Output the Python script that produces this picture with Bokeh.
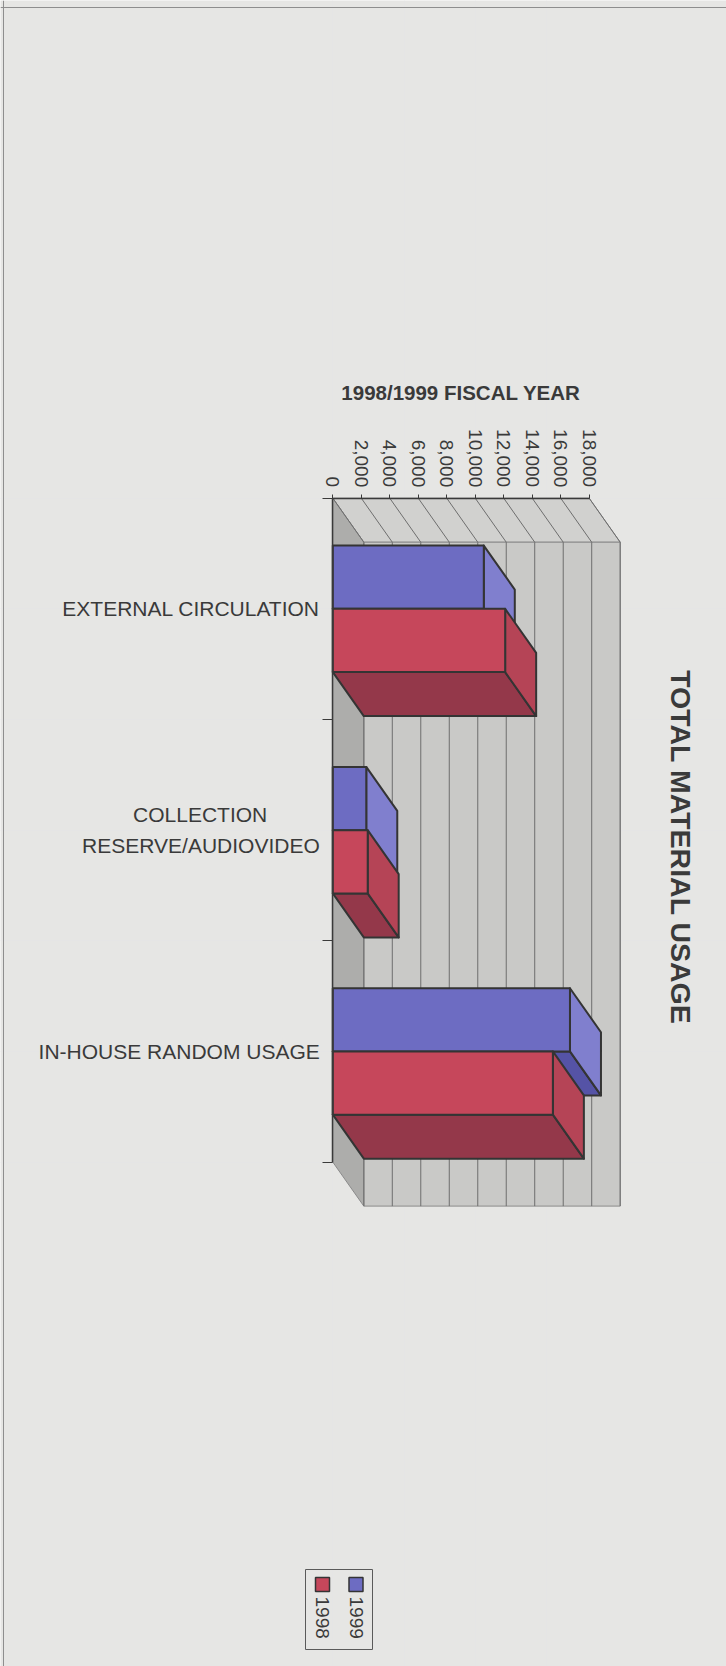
import math

from bokeh.core.properties import value
from bokeh.embed import file_html
from bokeh.models import (ColumnDataSource, FixedTicker, Label, LinearAxis,
                          NumeralTickFormatter, Range1d, Span)
from bokeh.plotting import figure
from bokeh.resources import INLINE

# ---- data -------------------------------------------------------------
# the short first line is padded with no-break spaces so both lines sit centred
categories = ["EXTERNAL CIRCULATION",
              "COLLECTION" + "\u00a0" * 9 + "\nRESERVE/AUDIOVIDEO",
              "IN-HOUSE RANDOM USAGE"]
series_names = ["1999", "1998"]
usage_1999 = [10600, 2350, 16650]
usage_1998 = [12100, 2450, 15450]
value_ticks = [0, 2000, 4000, 6000, 8000, 10000, 12000, 14000, 16000, 18000]

# ---- page geometry (pixels) -------------------------------------------
W, H = 726, 1666
ORIGIN_X, ORIGIN_Y = 332.3, 497.7      # front corner where the two axes meet
AXIS_PX = 256.4                        # pixel length of the value axis
CAT_PX = 221.3                         # pixel height of one category band
DEPTH_X_PX, DEPTH_Y_PX = 31.0, 44.0    # oblique offset of the 3-D depth

VMAX = value_ticks[-1]
per_px = VMAX / AXIS_PX


def vx(px):
    return (px - ORIGIN_X) * per_px


def cy(py):
    return (py - ORIGIN_Y) / CAT_PX


DX = DEPTH_X_PX * per_px
DY = DEPTH_Y_PX / CAT_PX
n = len(categories)
bar_w = 1.0 / (2 + 1.5)               # two bars with a 150% gap

PAPER = "#e6e6e4"
INK = "#3a3a3a"
EDGE = "#343434"
WALL = "#c9c9c7"
SIDE_WALL = "#d1d1cf"
FLOOR = "#adadab"
GRID = "#6e6e6e"
FONT = "Liberation Sans"

faces = {
    "1999": {"front": "#6d6cc2", "end": "#807fce", "base": "#5553a6"},
    "1998": {"front": "#c6475b", "end": "#b54456", "base": "#94384a"},
}

p = figure(width=W, height=H, x_range=Range1d(vx(0), vx(W)),
           y_range=Range1d(cy(H), cy(0)), output_backend="svg",
           toolbar_location=None, tools="", x_axis_location=None,
           y_axis_location=None, min_border=0, title=None)
p.background_fill_color = PAPER
p.border_fill_color = PAPER
p.outline_line_color = None

# page frame lines
p.add_layout(Span(location=vx(3), dimension="height", line_color="#8e8e8e", line_width=1))
p.add_layout(Span(location=cy(7), dimension="width", line_color="#8e8e8e", line_width=1))

# ---- walls -------------------------------------------------------------
p.patch([0, VMAX, VMAX + DX, DX], [0, 0, DY, DY], fill_color=SIDE_WALL,
        line_color="#8a8a8a", line_width=1)
p.quad(left=DX, right=VMAX + DX, top=DY, bottom=n + DY, fill_color=WALL,
       line_color="#8a8a8a", line_width=1)
p.patch([0, DX, DX, 0], [0, DY, n + DY, n], fill_color=FLOOR,
        line_color="#8a8a8a", line_width=1)

grid_src = ColumnDataSource(dict(
    t=value_ticks,
    td=[t + DX for t in value_ticks],
))
p.segment(x0="t", y0=0, x1="td", y1=DY, source=grid_src, line_color=GRID, line_width=1)
p.segment(x0="td", y0=DY, x1="td", y1=n + DY, source=grid_src, line_color=GRID, line_width=1)

# ---- 3-D bars -----------------------------------------------------------
for j, (name, vals) in enumerate(zip(series_names, [usage_1999, usage_1998])):
    tops = [i + 0.5 - bar_w + j * bar_w for i in range(n)]
    bots = [t + bar_w for t in tops]
    base_xs = [[0, v, v + DX, DX] for v in vals]
    base_ys = [[b, b, b + DY, b + DY] for b in bots]
    end_xs = [[v, v + DX, v + DX, v] for v in vals]
    end_ys = [[t, t + DY, b + DY, b] for t, b in zip(tops, bots)]
    col = faces[name]
    p.patches(base_xs, base_ys, fill_color=col["base"], line_color=EDGE,
              line_width=2, line_join="round")
    p.patches(end_xs, end_ys, fill_color=col["end"], line_color=EDGE,
              line_width=2, line_join="round")
    p.quad(left=0, right=vals, top=tops, bottom=bots, fill_color=col["front"],
           line_color=EDGE, line_width=2, line_join="round")

# ---- axes ----------------------------------------------------------------
cat_axis = LinearAxis(
    fixed_location=0, bounds=(0, n),
    ticker=FixedTicker(ticks=[i + 0.5 for i in range(n)],
                       minor_ticks=list(range(n + 1))),
    major_label_overrides={i + 0.5: c for i, c in enumerate(categories)},
    major_tick_line_color=None, major_tick_out=10, major_tick_in=0,
    minor_tick_line_color=INK, minor_tick_out=10, minor_tick_in=0,
    minor_tick_line_width=1,
    axis_line_color=INK, axis_line_width=1.5,
    major_label_standoff=3,
    major_label_text_font=FONT, major_label_text_font_size="21px",
    major_label_text_color=INK, major_label_text_line_height=1.35,
)
p.add_layout(cat_axis, "left")

val_axis = LinearAxis(
    fixed_location=0, bounds=(0, VMAX),
    ticker=FixedTicker(ticks=value_ticks),
    formatter=NumeralTickFormatter(format="0,0"),
    major_label_orientation=-math.pi / 2,
    major_tick_out=4, major_tick_in=0, major_tick_line_color=INK,
    axis_line_color=INK, axis_line_width=1.5,
    major_label_standoff=7,
    major_label_text_font=FONT, major_label_text_font_size="19px",
    major_label_text_color=INK,
    axis_label="1998/1999 FISCAL YEAR", axis_label_standoff=22,
    axis_label_text_font=FONT, axis_label_text_font_size="20.5px",
    axis_label_text_font_style="bold", axis_label_text_color=INK,
)
p.add_layout(val_axis, "above")

# ---- chart title -------------------------------------------------------------
p.add_layout(Label(x=vx(680), y=cy(847), text="TOTAL MATERIAL USAGE",
                   angle=-math.pi / 2, text_align="center", text_baseline="middle",
                   text_font=FONT, text_font_size="28.5px",
                   text_font_style="bold", text_color=INK))

# ---- legend --------------------------------------------------------------------
p.quad(left=vx(305), right=vx(372), top=cy(1569), bottom=cy(1649),
       fill_color=None, line_color="#5a5a5a", line_width=1)
leg_src = ColumnDataSource(dict(
    name=series_names,
    color=[faces[s]["front"] for s in series_names],
    xc=[vx(355.5), vx(322)],
))
p.rect(x="xc", y=cy(1584), width=14 * per_px, height=14 / CAT_PX,
       fill_color="color", line_color=EDGE, line_width=1.5, source=leg_src)
p.text(x="xc", y=cy(1596), text="name", angle=-math.pi / 2, text_align="left",
       text_baseline="middle", text_font=value(FONT), text_font_size="19px",
       text_color=INK, source=leg_src)

open("out.html", "w").write(file_html(p, INLINE))
